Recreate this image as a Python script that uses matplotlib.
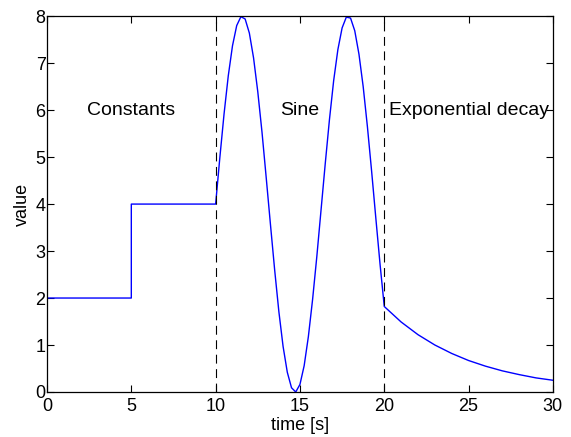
import matplotlib
matplotlib.use("Agg")
import matplotlib.pyplot as plt

plt.rcParams['font.family'] = ['Liberation Sans', 'DejaVu Sans']

# constant segments
const_t = [0, 5, 5, 10]
const_v = [2, 2, 4, 4]

# sine segment at 0.25 s steps
sine_t = [10 + 0.25 * i for i in range(41)]
sine_v = [4.00, 4.99, 5.92, 6.73, 7.37, 7.80, 7.99, 7.94, 7.64, 7.11,
          6.39, 5.53, 4.56, 3.57, 2.60, 1.71, 0.97, 0.42, 0.09, 0.00,
          0.16, 0.56, 1.18, 1.97, 2.88, 3.87, 4.86, 5.80, 6.63, 7.29,
          7.75, 7.98, 7.96, 7.69, 7.19, 6.50, 5.65, 4.70, 3.70, 2.72,
          1.82]

# exponential decay segment
exp_t = [20, 21, 22, 23, 24, 25, 26, 27, 28, 29, 30]
exp_v = [1.82, 1.49, 1.22, 1.00, 0.82, 0.67, 0.55, 0.45, 0.37, 0.30, 0.25]

bounds = [10, 20]
labels = ["Constants", "Sine", "Exponential decay"]
label_x = [5, 15, 25]
label_y = 6

t = const_t + sine_t + exp_t
v = const_v + sine_v + exp_v

fig = plt.figure(figsize=(5.71, 4.37), dpi=100)
ax = fig.add_axes([0.0823, 0.103, 0.886, 0.860])

ax.plot(t, v, color='#0000ff', lw=1.0)
for b in bounds:
    ax.plot([b, b], [0, 8], color='black', lw=0.8, dashes=(8, 5))

for x, s in zip(label_x, labels):
    ax.text(x, label_y, s, ha='center', va='center', fontsize=14)

ax.set_xlim(0, 30)
ax.set_ylim(0, 8)
ax.set_xticks(range(0, 31, 5))
ax.set_yticks(range(0, 9))
ax.tick_params(direction='in', length=5, width=0.8, labelsize=13,
               top=True, right=True)
ax.tick_params(axis='x', pad=4)
ax.tick_params(axis='y', pad=1)
for sp in ax.spines.values():
    sp.set_linewidth(0.9)
ax.set_xlabel("time [s]", fontsize=13, labelpad=1.5)
ax.set_ylabel("value", fontsize=13, labelpad=3)

fig.savefig("out.png", dpi=100)
